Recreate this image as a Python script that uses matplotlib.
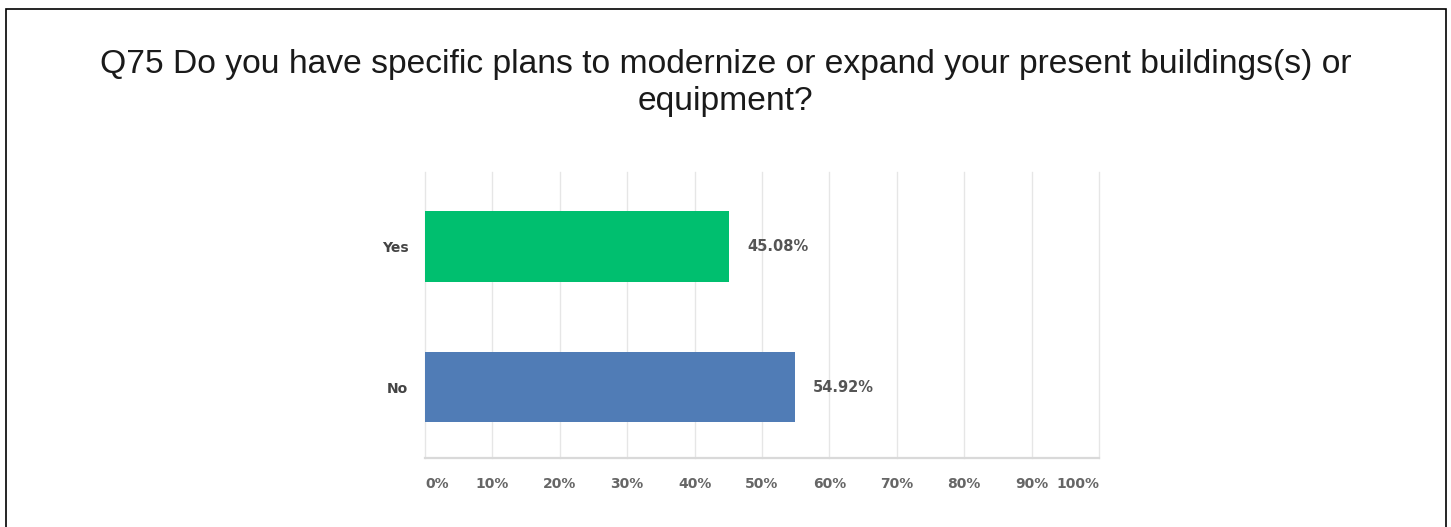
import matplotlib.pyplot as plt
from matplotlib.patches import Rectangle

# survey answers, Q75
answers = ["Yes", "No"]
shares = [45.08, 54.92]
bar_colors = ["#00bf6f", "#507cb6"]
ticks = [0, 10, 20, 30, 40, 50, 60, 70, 80, 90, 100]
tick_labels = [str(t) + "%" for t in ticks]

title = ("Q75 Do you have specific plans to modernize or expand your present buildings(s) or\n"
         "equipment?")

fig = plt.figure(figsize=(14.51, 5.27), dpi=100)
fig.patch.set_facecolor("white")

# frame round the whole panel
fig.patches.append(Rectangle((5.5 / 1451, -0.02), 1440 / 1451, 1 - 8.5 / 527 + 0.02,
                             transform=fig.transFigure, fill=False,
                             edgecolor="black", linewidth=1.2))

fig.text(0.5, 1 - 83 / 527, title, ha="center", va="center", fontsize=24.2,
         family="Liberation Sans", color="#1a1a1a", linespacing=1.22)

ax = fig.add_axes([425 / 1451, 69 / 527, 674 / 1451, 286 / 527])

ypos = list(range(len(answers)))
ax.barh(ypos, shares, height=0.5, color=bar_colors, zorder=3)

for y, v in zip(ypos, shares):
    ax.annotate(f"{v:.2f}%", (v, y), xytext=(13, 0), textcoords="offset points",
                ha="left", va="center", fontsize=10.5, fontweight="bold",
                color="#555555", family="DejaVu Sans")

ax.set_xlim(0, 100)
ax.set_ylim(1.505, -0.53)
ax.set_xticks(ticks)
ax.set_xticklabels(tick_labels)
ax.set_yticks(ypos)
ax.set_yticklabels(answers)

ax.tick_params(axis="x", length=0, pad=14, labelsize=10, labelcolor="#666666")
ax.tick_params(axis="y", length=0, pad=12, labelsize=10, labelcolor="#444444")
for lab in ax.get_xticklabels() + ax.get_yticklabels():
    lab.set_fontweight("bold")
xl = ax.get_xticklabels()
xl[0].set_ha("left")
xl[-1].set_ha("right")

ax.grid(axis="x", color="#e6e6e6", linewidth=1.0, zorder=0)
for line in ax.get_xgridlines():
    line.set_clip_on(False)
for side in ["top", "right", "left"]:
    ax.spines[side].set_visible(False)
ax.spines["bottom"].set_color("#d9d9d9")
ax.spines["bottom"].set_linewidth(1.6)

fig.savefig("out.png", dpi=100)
